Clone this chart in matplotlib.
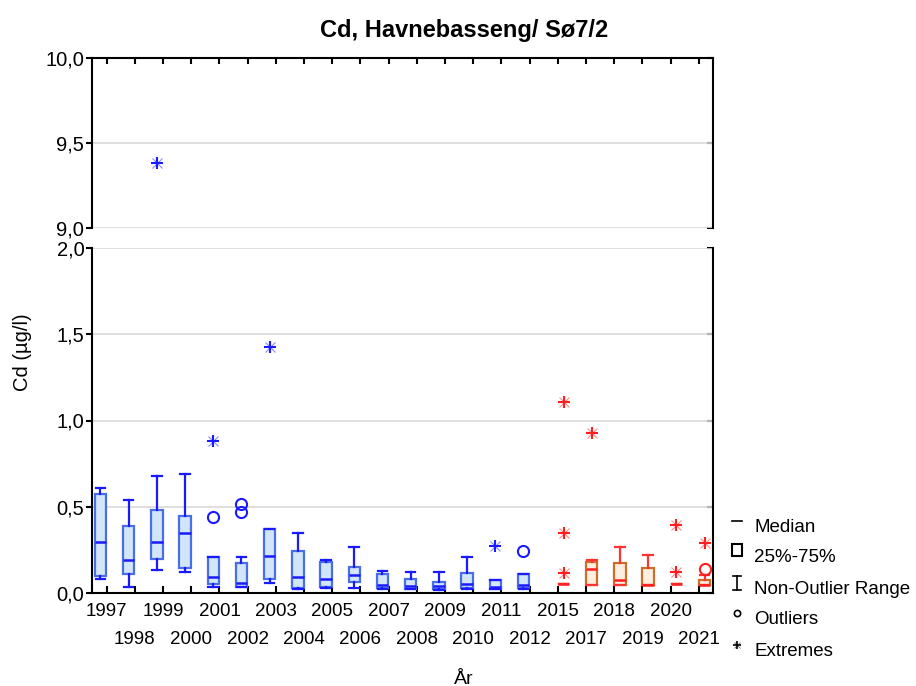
import matplotlib
matplotlib.use("Agg")
import matplotlib.pyplot as plt
from matplotlib.ticker import FuncFormatter

plt.rcParams['font.family'] = ['Liberation Sans', 'DejaVu Sans']

# ---- data ----
years = ["1997", "1998", "1999", "2000", "2001", "2002", "2003", "2004", "2005", "2006",
         "2007", "2008", "2009", "2010", "2011", "2012",
         "2015", "2017", "2018", "2019", "2020", "2021"]
group = ["old"] * 16 + ["new"] * 6

whislo = [0.079, 0.037, 0.131, 0.120, 0.037, 0.034, 0.056, 0.021, 0.029, 0.031,
          0.025, 0.021, 0.020, 0.025, 0.021, 0.025,
          0.050, 0.046, 0.046, 0.046, 0.050, 0.046]
q1 = [0.099, 0.110, 0.199, 0.145, 0.052, 0.037, 0.079, 0.027, 0.037, 0.062,
      0.028, 0.023, 0.021, 0.027, 0.021, 0.027,
      0.050, 0.046, 0.046, 0.046, 0.050, 0.046]
med = [0.296, 0.191, 0.296, 0.346, 0.095, 0.060, 0.214, 0.093, 0.081, 0.106,
       0.046, 0.043, 0.039, 0.052, 0.033, 0.045,
       0.050, 0.139, 0.075, 0.046, 0.050, 0.046]
q3 = [0.572, 0.388, 0.481, 0.446, 0.207, 0.172, 0.369, 0.245, 0.178, 0.153,
      0.108, 0.083, 0.062, 0.118, 0.074, 0.110,
      0.050, 0.178, 0.174, 0.143, 0.050, 0.073]
whishi = [0.610, 0.539, 0.680, 0.690, 0.207, 0.207, 0.369, 0.350, 0.191, 0.268,
          0.129, 0.122, 0.120, 0.209, 0.074, 0.110,
          0.050, 0.191, 0.268, 0.220, 0.050, 0.102]
outliers = [[], [], [], [], [0.443], [0.516, 0.471], [], [], [], [],
            [], [], [], [], [], [0.243],
            [], [], [], [], [], [0.139]]
extremes = [[], [], [9.382], [], [0.881], [], [1.426], [], [], [],
            [], [], [], [], [0.274], [],
            [1.105, 0.346, 0.114], [0.929], [], [], [0.392, 0.122], [0.288]]

# ---- styles ----
sty = {
    "old": dict(fill="#d2e6f9", edge="#4a6ee6", med="#1a1aff", whis="#1a1aff", off=-0.22),
    "new": dict(fill="#fdeee0", edge="#c8702a", med="#ff1f1f", whis="#ff3333", off=0.20),
}

W, H = 916, 686
fig = plt.figure(figsize=(W / 100, H / 100), dpi=100)
L, R = 92 / W, 713 / W
ax_top = fig.add_axes([L, 1 - 228 / H, R - L, (228 - 58) / H])
ax_bot = fig.add_axes([L, 1 - 593 / H, R - L, (593 - 248) / H])

xs = list(range(len(years)))
comma = FuncFormatter(lambda v, p: f"{v:.1f}".replace(".", ","))


def draw(ax):
    for i in xs:
        s = sty[group[i]]
        x = i + s["off"]
        stats = [dict(med=med[i], q1=q1[i], q3=q3[i], whislo=whislo[i], whishi=whishi[i], fliers=[])]
        ax.bxp(stats, positions=[x], widths=0.40, patch_artist=True, showfliers=False,
               boxprops=dict(facecolor=s["fill"], edgecolor=s["edge"], linewidth=1.6),
               medianprops=dict(color=s["med"], linewidth=1.8),
               whiskerprops=dict(color=s["whis"], linewidth=1.6),
               capprops=dict(color=s["whis"], linewidth=1.6),
               capwidths=0.34, manage_ticks=False, zorder=3)
        if outliers[i]:
            ax.plot([x] * len(outliers[i]), outliers[i], linestyle="none", marker="o",
                    markersize=8, markerfacecolor="none", markeredgecolor=s["med"],
                    markeredgewidth=1.5, zorder=4)
        if extremes[i]:
            ax.plot([x] * len(extremes[i]), extremes[i], linestyle="none", marker="+",
                    markersize=8.5, markeredgecolor=s["med"], markeredgewidth=1.5, zorder=4)
            ax.plot([x] * len(extremes[i]), extremes[i], linestyle="none", marker="x",
                    markersize=7.5, markeredgecolor=s["med"], markeredgewidth=0.8,
                    alpha=0.5, zorder=4)
    ax.set_xlim(-0.52, 21.5)
    ax.yaxis.set_major_formatter(comma)
    ax.grid(axis="y", color="#d9d9d9", linewidth=1.2, zorder=0)
    ax.set_axisbelow(True)
    for sp in ax.spines.values():
        sp.set_linewidth(1.5)
    ax.tick_params(axis="y", which="both", direction="out", length=4, width=1.5,
                   labelsize=14.5, pad=1.5)
    # right-hand ticks point inward
    sec = ax.secondary_yaxis("right")
    sec.tick_params(axis="y", direction="in", length=4, width=1.5, labelright=False)
    sec.spines["right"].set_visible(False)
    return sec


sec_top = draw(ax_top)
sec_bot = draw(ax_bot)

ax_top.set_ylim(9.0, 10.0)
ax_top.set_yticks([9.0, 9.5, 10.0])
sec_top.set_yticks([9.0, 9.5, 10.0])
ax_top.spines["bottom"].set_visible(False)
ax_top.set_xticks(xs)
ax_top.tick_params(axis="x", bottom=False, top=True, labelbottom=False, direction="in",
                   length=4, width=1.5)

ax_bot.set_ylim(0.0, 2.0)
ax_bot.set_yticks([0.0, 0.5, 1.0, 1.5, 2.0])
sec_bot.set_yticks([0.0, 0.5, 1.0, 1.5, 2.0])
ax_bot.spines["top"].set_visible(False)
ax_bot.set_xticks(xs)
ax_bot.set_xticklabels([y if i % 2 == 0 else "" for i, y in enumerate(years)])
ax_bot.tick_params(axis="x", direction="in", length=5, width=1.5, labelsize=13.5, pad=7)

# second row of staggered year labels
sec_x = ax_bot.secondary_xaxis("bottom")
sec_x.set_xticks([i for i in xs if i % 2 == 1])
sec_x.set_xticklabels([y for i, y in enumerate(years) if i % 2 == 1])
sec_x.tick_params(axis="x", length=0, labelsize=13.5, pad=27)
sec_x.spines["bottom"].set_visible(False)

fig.text(464 / W, 1 - 30 / H, "Cd, Havnebasseng/ Sø7/2", ha="center", va="center",
         fontsize=17, fontweight="bold")
fig.text(22 / W, 1 - 352 / H, "Cd (µg/l)", rotation=90, ha="center", va="center",
         fontsize=14.5)
fig.text(464 / W, 1 - 679 / H, "År", ha="center", va="center", fontsize=14)

# ---- legend (custom, as in reference) ----
leg_labels = ["Median", "25%-75%", "Non-Outlier Range", "Outliers", "Extremes"]
leg_text_y = [527, 557, 590, 620, 651]
leg_mark_y = [521, 550, 583, 613, 645]
leg_ax = fig.add_axes([0, 0, 1, 1], facecolor="none")
leg_ax.set_xlim(0, W)
leg_ax.set_ylim(H, 0)
leg_ax.axis("off")
mx = 737
leg_ax.plot([mx - 5, mx + 5], [leg_mark_y[0]] * 2, color="black", lw=1.2)
leg_ax.add_patch(plt.Rectangle((mx - 5, leg_mark_y[1] - 6), 10, 12, fill=False,
                               edgecolor="black", lw=1.5))
leg_ax.plot([mx, mx], [leg_mark_y[2] - 7, leg_mark_y[2] + 7], color="black", lw=1.2)
leg_ax.plot([mx - 4, mx + 4], [leg_mark_y[2] - 7] * 2, color="black", lw=1.2)
leg_ax.plot([mx - 4, mx + 4], [leg_mark_y[2] + 7] * 2, color="black", lw=1.2)
leg_ax.plot([mx], [leg_mark_y[3]], marker="o", markersize=4.5, markerfacecolor="none",
            markeredgecolor="black", markeredgewidth=1.2)
leg_ax.plot([mx], [leg_mark_y[4]], marker="+", markersize=6, markeredgecolor="black",
            markeredgewidth=1.2)
leg_ax.plot([mx], [leg_mark_y[4]], marker="x", markersize=5, markeredgecolor="black",
            markeredgewidth=0.7, alpha=0.5)
for lab, yy in zip(leg_labels, leg_text_y):
    leg_ax.text(754, yy, lab, ha="left", va="center", fontsize=13.5)

fig.savefig("out.png", dpi=100)
